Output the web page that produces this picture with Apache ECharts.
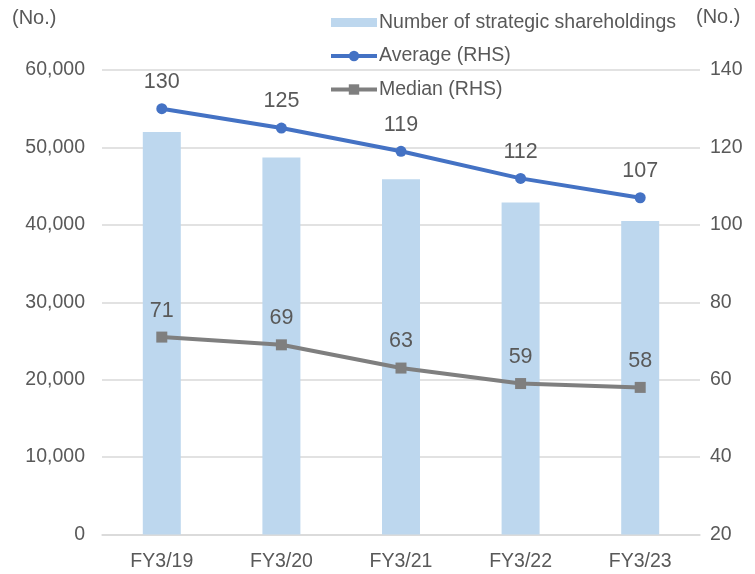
<!DOCTYPE html>
<html>
<head>
<meta charset="utf-8">
<script src="https://cdn.jsdelivr.net/npm/echarts@6/dist/echarts.min.js"></script>
<style>
html,body{margin:0;padding:0;background:#fff;}
#chart{width:755px;height:574px;}
</style>
</head>
<body>
<div id="chart"></div>
<script>
const categories = ['FY3/19', 'FY3/20', 'FY3/21', 'FY3/22', 'FY3/23'];
const holdings = [52000, 48700, 45900, 42900, 40500];
const averageRHS = [130, 125, 119, 112, 107];
const medianRHS = [71, 69, 63, 59, 58];
const seriesNames = ['Number of strategic shareholdings', 'Average (RHS)', 'Median (RHS)'];
const axisUnit = '(No.)';

const FONT = '"Liberation Sans", Arial, sans-serif';
const TXT = '#595959';

const chart = echarts.init(document.getElementById('chart'), null, {renderer: 'canvas'});
chart.setOption({
  animation: false,
  backgroundColor: '#fff',
  textStyle: {fontFamily: FONT, color: TXT},
  grid: {left: 102, right: 55, top: 70, bottom: 39.5},
  legend: {
    orient: 'vertical',
    left: 324,
    top: 6,
    itemWidth: 46,
    itemHeight: 13,
    itemGap: 10.5,
    lineStyle: {width: 4},
    textStyle: {fontFamily: FONT, fontSize: 19.5, color: TXT, lineHeight: 23, padding: [0,0,0,-3]},
    data: [
      {name: seriesNames[0], icon: 'path://M0,0 M46,13 M0,2 H46 V11 H0 Z'},
      {name: seriesNames[1]},
      {name: seriesNames[2]}
    ]
  },
  graphic: [
    {type: 'text', left: 12, top: 8, style: {text: axisUnit, fontFamily: FONT, fontSize: 20, fill: TXT}},
    {type: 'text', left: 696, top: 7, style: {text: axisUnit, fontFamily: FONT, fontSize: 20, fill: TXT}}
  ],
  xAxis: {
    type: 'category',
    data: categories,
    axisTick: {show: false},
    axisLine: {show: true, lineStyle: {color: '#D9D9D9', width: 1.5}},
    axisLabel: {fontFamily: FONT, fontSize: 19.5, color: TXT, margin: 17}
  },
  yAxis: [
    {
      type: 'value', min: 0, max: 60000, interval: 10000,
      axisLine: {show: false}, axisTick: {show: false},
      splitLine: {lineStyle: {color: '#D9D9D9', width: 1.5}},
      axisLabel: {fontFamily: FONT, fontSize: 19.5, color: TXT, margin: 17,
        formatter: v => v.toLocaleString('en-US')}
    },
    {
      type: 'value', min: 20, max: 140, interval: 20,
      axisLine: {show: false}, axisTick: {show: false},
      splitLine: {show: false},
      axisLabel: {fontFamily: FONT, fontSize: 19.5, color: TXT, margin: 10}
    }
  ],
  series: [
    {
      name: seriesNames[0], type: 'bar', data: holdings, yAxisIndex: 0,
      barWidth: 38, itemStyle: {color: '#BDD7EE'}
    },
    {
      name: seriesNames[1], type: 'line', data: averageRHS, yAxisIndex: 1,
      symbol: 'circle', symbolSize: 11,
      lineStyle: {color: '#4472C4', width: 4},
      itemStyle: {color: '#4472C4'},
      label: {show: true, position: 'top', distance: 10, fontFamily: FONT, fontSize: 21.5, color: TXT}
    },
    {
      name: seriesNames[2], type: 'line', data: medianRHS, yAxisIndex: 1,
      symbol: 'rect', symbolSize: 11,
      lineStyle: {color: '#7F7F7F', width: 4},
      itemStyle: {color: '#7F7F7F'},
      label: {show: true, position: 'top', distance: 10, fontFamily: FONT, fontSize: 21.5, color: TXT}
    }
  ]
});
</script>
</body>
</html>
